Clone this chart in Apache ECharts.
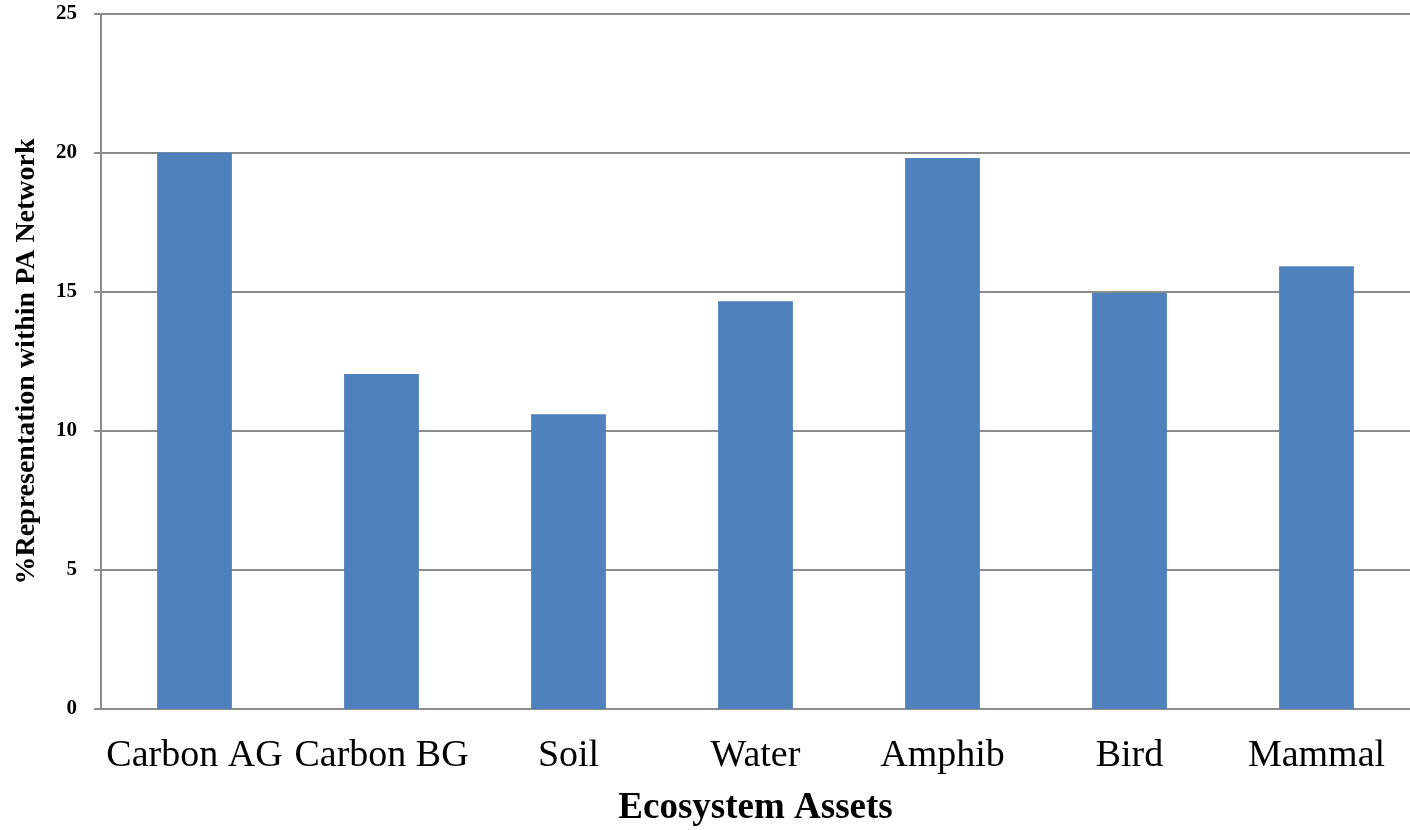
<!DOCTYPE html>
<html><head><meta charset="utf-8">
<script src="https://cdn.jsdelivr.net/npm/echarts@6/dist/echarts.min.js"></script>
<style>html,body{margin:0;padding:0;background:#fff;overflow:hidden}#c{width:1410px;height:830px}</style>
</head><body><div id="c"></div>
<script>
var categories = ["Carbon AG","Carbon BG","Soil","Water","Amphib","Bird","Mammal"];
var values = [20.02, 12.05, 10.6, 14.67, 19.82, 14.96, 15.93];
var yTicks = {min:0, max:25, interval:5};
var chart = echarts.init(document.getElementById('c'), null, {renderer:'canvas'});
chart.setOption({
  animation:false,
  backgroundColor:'#fff',
  grid:{left:101, right:0, top:14, bottom:121, containLabel:false, outerBoundsMode:'none'},
  xAxis:{
    type:'category', data:categories,
    name:'Ecosystem Assets', nameLocation:'middle', nameGap:81,
    nameTextStyle:{fontFamily:'Liberation Serif', fontWeight:'bold', fontSize:37, color:'#000'},
    axisLine:{lineStyle:{color:'#8c8c8c', width:2}},
    axisTick:{show:false},
    axisLabel:{fontFamily:'Liberation Serif', fontSize:38, color:'#000', margin:28, interval:0}
  },
  yAxis:{
    type:'value', min:yTicks.min, max:yTicks.max, interval:yTicks.interval,
    name:'%Representation within PA Network', nameLocation:'middle', nameGap:60,
    nameTextStyle:{fontFamily:'Liberation Serif', fontWeight:'bold', fontSize:28, color:'#000'},
    axisLine:{show:true, lineStyle:{color:'#8c8c8c', width:2}},
    axisTick:{show:true, length:7, lineStyle:{color:'#8c8c8c', width:2}},
    splitLine:{lineStyle:{color:'#8c8c8c', width:2}},
    axisLabel:{fontFamily:'Liberation Serif', fontWeight:'bold', fontSize:21, color:'#000', margin:24}
  },
  series:[{
    type:'bar', data:values, barWidth:'40%',
    itemStyle:{color:'#4f81bd'}
  }]
});
</script></body></html>
